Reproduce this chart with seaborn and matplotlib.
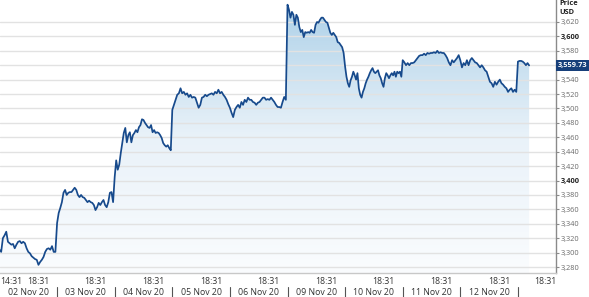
import numpy as np
import pandas as pd
import matplotlib
matplotlib.use("Agg")
import matplotlib.pyplot as plt
import seaborn as sns
from matplotlib.colors import LinearSegmentedColormap
from matplotlib.transforms import blended_transform_factory

# ---------------- data ----------------
DATE_LABELS = ["02 Nov 20", "03 Nov 20", "04 Nov 20", "05 Nov 20", "06 Nov 20",
               "09 Nov 20", "10 Nov 20", "11 Nov 20", "12 Nov 20"]
SESSION_OPEN = "14:31"
MID_SESSION = "18:31"

nov02 = [3304, 3301, 3320, 3324, 3329, 3315, 3313, 3311, 3312, 3306, 3311, 3315, 3316, 3313,
         3315, 3313, 3306, 3301, 3299, 3295, 3293, 3291, 3290, 3283, 3287, 3290, 3294, 3301,
         3305, 3306, 3304, 3309, 3301, 3301]
nov03 = [3341, 3355, 3362, 3370, 3383, 3387, 3380, 3383, 3384, 3384, 3387, 3390, 3387, 3380,
         3377, 3380, 3377, 3376, 3373, 3370, 3372, 3370, 3369, 3366, 3359, 3363, 3369, 3366,
         3370, 3373, 3366, 3363, 3370, 3383, 3384, 3370]
nov04 = [3405, 3428, 3415, 3422, 3438, 3452, 3466, 3473, 3453, 3463, 3467, 3453, 3463, 3466,
         3470, 3467, 3474, 3477, 3485, 3484, 3480, 3477, 3474, 3473, 3477, 3467, 3470, 3466,
         3467, 3466, 3463, 3459, 3452, 3449, 3447, 3449, 3445, 3442]
nov05 = [3498, 3505, 3512, 3519, 3521, 3528, 3521, 3523, 3519, 3521, 3516, 3519, 3515, 3516,
         3515, 3508, 3501, 3505, 3515, 3516, 3519, 3517, 3519, 3520, 3521, 3519, 3523, 3521,
         3526, 3521, 3523, 3519, 3516, 3512, 3506]
nov06 = [3501, 3494, 3488, 3498, 3502, 3505, 3501, 3509, 3505, 3512, 3509, 3515, 3512, 3512,
         3509, 3508, 3505, 3508, 3509, 3512, 3515, 3515, 3512, 3513, 3512, 3515, 3512, 3509,
         3505, 3502, 3502, 3501, 3509, 3516, 3512]
nov09 = [3644, 3637, 3626, 3634, 3630, 3616, 3630, 3626, 3613, 3606, 3609, 3599, 3606, 3605,
         3606, 3605, 3609, 3606, 3605, 3616, 3620, 3619, 3623, 3626, 3626, 3623, 3620, 3619,
         3612, 3605, 3602, 3605, 3602, 3599, 3592, 3591, 3588, 3585, 3577]
nov10 = [3558, 3544, 3535, 3530, 3539, 3544, 3551, 3546, 3540, 3549, 3528, 3519, 3515, 3523,
         3528, 3535, 3540, 3544, 3549, 3553, 3556, 3551, 3549, 3551, 3553, 3546, 3542, 3535,
         3530, 3542, 3549, 3546, 3542, 3546, 3549, 3546, 3551, 3544, 3551, 3549, 3551, 3544]
nov11 = [3567, 3564, 3560, 3563, 3560, 3563, 3563, 3564, 3567, 3570, 3573, 3574, 3574, 3576,
         3574, 3577, 3576, 3577, 3577, 3578, 3577, 3580, 3577, 3578, 3577, 3577, 3574, 3570,
         3564, 3560, 3567, 3564, 3567, 3570, 3574]
nov12 = [3567, 3557, 3563, 3560, 3567, 3560, 3567, 3570, 3567, 3564, 3563, 3560, 3557, 3560,
         3557, 3553, 3551, 3544, 3537, 3535, 3530, 3537, 3533, 3537, 3540, 3535, 3533, 3530,
         3528, 3523, 3526, 3528, 3523, 3526, 3523]
nov13 = [3565, 3566, 3566, 3565, 3563, 3560, 3563, 3559.73]   # partial session (latest)

LAST_PRICE = 3559.73
Y_TICKS = list(range(3280, 3621, 20))
BOLD_TICKS = [3400, 3600]
HIDDEN_TICKS = [3560]           # covered by the last-price marker

FULL_SESSIONS = [nov02, nov03, nov04, nov05, nov06, nov09, nov10, nov11, nov12]
SLOTS_PER_SESSION = 36          # sampling density used for the unfinished session
MID_FRACTION = 0.67             # 18:31 position within a session

# ---------------- build table ----------------
rows = []
for k, day in enumerate(FULL_SESSIONS):
    n = len(day)
    for i, v in enumerate(day):
        rows.append((k + i / n, v))
for i, v in enumerate(nov13):
    rows.append((len(FULL_SESSIONS) + i / SLOTS_PER_SESSION, v))
df = pd.DataFrame(rows, columns=["t", "price"])

# ---------------- figure ----------------
sns.set_theme(style="white")
plt.rcParams["font.family"] = ["Open Sans", "DejaVu Sans"]

W, H = 589, 297
fig = plt.figure(figsize=(W / 100, H / 100), dpi=100)
fig.patch.set_facecolor("white")
ax = fig.add_axes([0, 24 / H, 556 / W, 273 / H])

YMIN, YMAX = 3271.7, 3650.5
XMIN, XMAX = 0.009, 9.661

# gradient fill under the line
poly = ax.fill_between(df["t"], df["price"], YMIN, color="none", lw=0)
cmap = LinearSegmentedColormap.from_list("g", ["#fafcfe", "#e9f2f9", "#acd0e8"])
grad = np.linspace(0, 1, 256).reshape(-1, 1)
im = ax.imshow(grad, extent=[XMIN, XMAX, YMIN, YMAX], origin="lower", aspect="auto",
               cmap=cmap, zorder=1)
im.set_clip_path(poly.get_paths()[0], transform=ax.transData)

sns.lineplot(data=df, x="t", y="price", ax=ax, color="#174a8c", linewidth=1.25,
             estimator=None, sort=False, zorder=3)

ax.set_xlim(XMIN, XMAX)
ax.set_ylim(YMIN, YMAX)
ax.set_xlabel("")
ax.set_ylabel("")

# grid
for v in Y_TICKS:
    ax.axhline(v, color="#e2e2e2", lw=1.0, zorder=2)

# spines
for s in ["left", "top"]:
    ax.spines[s].set_visible(False)
ax.spines["right"].set_color("#8a8a8a")
ax.spines["right"].set_linewidth(1.0)
ax.spines["bottom"].set_color("#c8c8c8")
ax.spines["bottom"].set_linewidth(1.0)

# y axis on right
ax.yaxis.tick_right()
ax.set_yticks(Y_TICKS, ["" if v in HIDDEN_TICKS else f"{v:,}" for v in Y_TICKS])
ax.tick_params(axis="y", which="major", length=2.5, width=0.8, color="#8a8a8a",
               labelsize=5.3, labelcolor="#6a6a6a", pad=1)
for lbl, v in zip(ax.get_yticklabels(), Y_TICKS):
    if v in BOLD_TICKS:
        lbl.set_fontweight("bold")
        lbl.set_color("#222222")

# x axis: ticks at session boundaries
n_days = len(FULL_SESSIONS)
ax.set_xticks(range(1, n_days + 1), [""] * n_days)
ax.tick_params(axis="x", which="major", length=3, width=0.8, color="#b0b0b0", pad=0)

tr = blended_transform_factory(ax.transData, ax.transAxes)
time_y, date_y = -0.030, -0.072
ax.text(XMIN, time_y, SESSION_OPEN, transform=tr, ha="left", va="center",
        fontsize=6.3, color="#333333")
for k in range(n_days + 1):
    xpos = k + MID_FRACTION
    ha = "center"
    if xpos > XMAX - 0.15:
        xpos, ha = XMAX, "right"
    ax.text(xpos, time_y, MID_SESSION, transform=tr, ha=ha, va="center",
            fontsize=6.3, color="#333333")
for k, lab in enumerate(DATE_LABELS):
    ax.text(k + 0.5, date_y, lab, transform=tr, ha="center", va="center",
            fontsize=6.3, color="#333333")
for k in range(1, n_days + 1):
    ax.plot([k, k], [-0.052, -0.088], transform=tr, color="#555555", lw=0.8,
            clip_on=False)

# header and last price marker
trr = blended_transform_factory(ax.transAxes, ax.transData)
ax.text(1.0 + 3 / 556, 1.0, "Price\nUSD", transform=ax.transAxes, ha="left", va="top",
        fontsize=5.3, fontweight="bold", color="#222222", linespacing=1.5)
ax.text(1.0 + 2 / 556, LAST_PRICE, f"{LAST_PRICE:,.2f}", transform=trr, ha="left",
        va="center", fontsize=5.3, fontweight="bold", color="white", zorder=5,
        bbox=dict(boxstyle="square,pad=0.25", fc="#173f7a", ec="none"))

fig.savefig("out.png", dpi=100, facecolor="white")
